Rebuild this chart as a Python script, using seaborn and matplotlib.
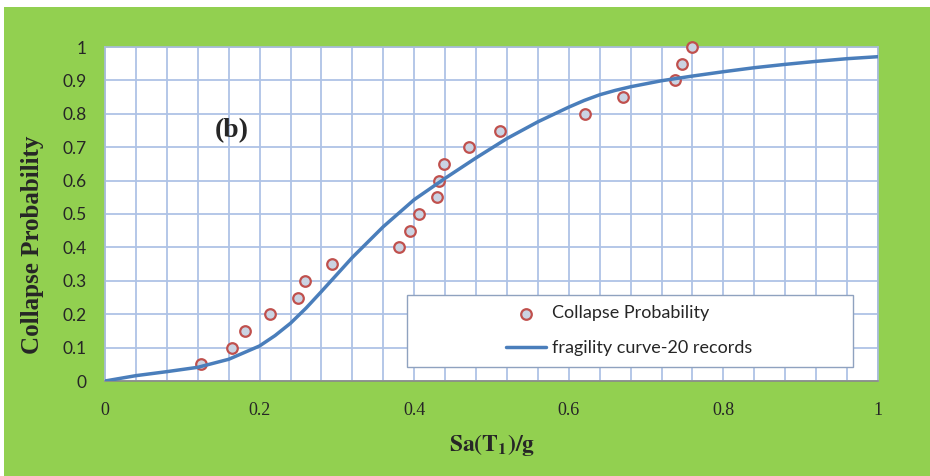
import numpy as np
import pandas as pd
import matplotlib
matplotlib.use("Agg")
import matplotlib.pyplot as plt
from matplotlib.patches import Rectangle
from matplotlib.ticker import MultipleLocator
import seaborn as sns

# ---- data ----
sa_points = [0.124, 0.164, 0.181, 0.213, 0.250, 0.259, 0.294, 0.380, 0.395, 0.406,
             0.430, 0.432, 0.439, 0.471, 0.511, 0.621, 0.670, 0.737, 0.746, 0.759]
prob_points = [0.05, 0.10, 0.15, 0.20, 0.25, 0.30, 0.35, 0.40, 0.45, 0.50,
               0.55, 0.60, 0.65, 0.70, 0.75, 0.80, 0.85, 0.90, 0.95, 1.00]

sa_curve = [0.00, 0.04, 0.08, 0.12, 0.16, 0.20, 0.22, 0.24, 0.26, 0.28, 0.32, 0.36, 0.40,
            0.44, 0.48, 0.52, 0.56, 0.60, 0.62, 0.64, 0.66, 0.68, 0.72, 0.76, 0.80, 0.84,
            0.88, 0.92, 0.96, 1.00]
prob_curve = [0.000, 0.016, 0.028, 0.041, 0.065, 0.105, 0.136, 0.173, 0.218, 0.268, 0.370,
              0.462, 0.543, 0.607, 0.668, 0.726, 0.776, 0.820, 0.840, 0.857, 0.870, 0.881,
              0.899, 0.913, 0.926, 0.938, 0.948, 0.957, 0.965, 0.971]

x_ticks = [0, 0.2, 0.4, 0.6, 0.8, 1]
x_tick_labels = ["0", "0.2", "0.4", "0.6", "0.8", "1"]
y_ticks = [0, 0.1, 0.2, 0.3, 0.4, 0.5, 0.6, 0.7, 0.8, 0.9, 1]
y_tick_labels = ["0", "0.1", "0.2", "0.3", "0.4", "0.5", "0.6", "0.7", "0.8", "0.9", "1"]

label_points = "Collapse Probability"
label_curve = "fragility curve-20 records"

df_pts = pd.DataFrame({"sa": sa_points, "p": prob_points})
df_cur = pd.DataFrame({"sa": sa_curve, "p": prob_curve})

# ---- style ----
sns.set_style("white")
plt.rcParams["font.family"] = ["Lato", "DejaVu Sans"]
plt.rcParams["mathtext.fontset"] = "stix"

W, H = 930, 476
fig = plt.figure(figsize=(W / 100, H / 100), dpi=100, facecolor="white")
green = "#92D050"
fig.patches.append(Rectangle((4 / W, 0), 1 - 4 / W, (H - 7) / H,
                             transform=fig.transFigure, facecolor=green,
                             edgecolor="none", zorder=-10))

ax = fig.add_axes([105 / W, (H - 381) / H, (878 - 105) / W, (381 - 47) / H])
ax.set_facecolor("white")

sns.scatterplot(data=df_pts, x="sa", y="p", ax=ax, s=58, marker="o",
                facecolor="#CAD3E2", edgecolor="#C0504D", linewidth=1.6,
                label=label_points, zorder=3, clip_on=False)
sns.lineplot(data=df_cur, x="sa", y="p", ax=ax, color="#4A7EBB", linewidth=2.5,
             label=label_curve, zorder=4, sort=True)

ax.set_xlim(0, 1)
ax.set_ylim(0, 1)
ax.set_xticks(x_ticks)
ax.set_xticklabels(x_tick_labels, family=["Liberation Serif"], fontsize=13)
ax.set_yticks(y_ticks)
ax.set_yticklabels(y_tick_labels, family=["Lato"], fontsize=12.5)
ax.xaxis.set_minor_locator(MultipleLocator(0.04))
ax.tick_params(axis="both", which="both", length=0)
ax.tick_params(axis="x", pad=15)
ax.tick_params(axis="y", pad=13)

grid_c = "#AFC3E6"
ax.grid(True, which="both", axis="x", color=grid_c, linewidth=1.3, zorder=0)
ax.grid(True, which="major", axis="y", color=grid_c, linewidth=1.3, zorder=0)
ax.set_axisbelow(True)
for side in ["top", "right", "left"]:
    ax.spines[side].set_color("#A9BCDD")
    ax.spines[side].set_linewidth(1.2)
ax.spines["bottom"].set_color("#8A8A8A")
ax.spines["bottom"].set_linewidth(1.2)

ax.set_xlabel(r"$\mathbf{Sa(T_1)/g}$", fontsize=17)
ax.xaxis.set_label_coords(0.5006, -0.192)
ax.xaxis.label.set_verticalalignment("center")
ax.set_ylabel("Collapse Probability", family=["Liberation Serif"],
              fontweight="bold", fontsize=18)
ax.yaxis.set_label_coords(-0.0944, 0.407)
ax.yaxis.label.set_verticalalignment("center")

ax.text(0.164, 0.749, "(b)", family=["Liberation Serif"], fontweight="bold",
        fontsize=20, ha="center", va="center", zorder=5)

# legend box
box = Rectangle((0.391, 0.042), 0.577, 0.215, transform=ax.transAxes,
                facecolor="white", edgecolor="#8FA2BF", linewidth=1.0, zorder=6)
ax.add_patch(box)
handles, labels = ax.get_legend_handles_labels()
leg = ax.legend(handles, labels, loc="center", bbox_to_anchor=(0.678, 0.150),
                bbox_transform=ax.transAxes, frameon=False,
                prop={"family": ["Lato"], "size": 13},
                handlelength=2.2, handletextpad=0.3, labelspacing=1.05,
                markerscale=1.0)
leg.set_zorder(7)

fig.savefig("out.png", dpi=100, facecolor=fig.get_facecolor())
